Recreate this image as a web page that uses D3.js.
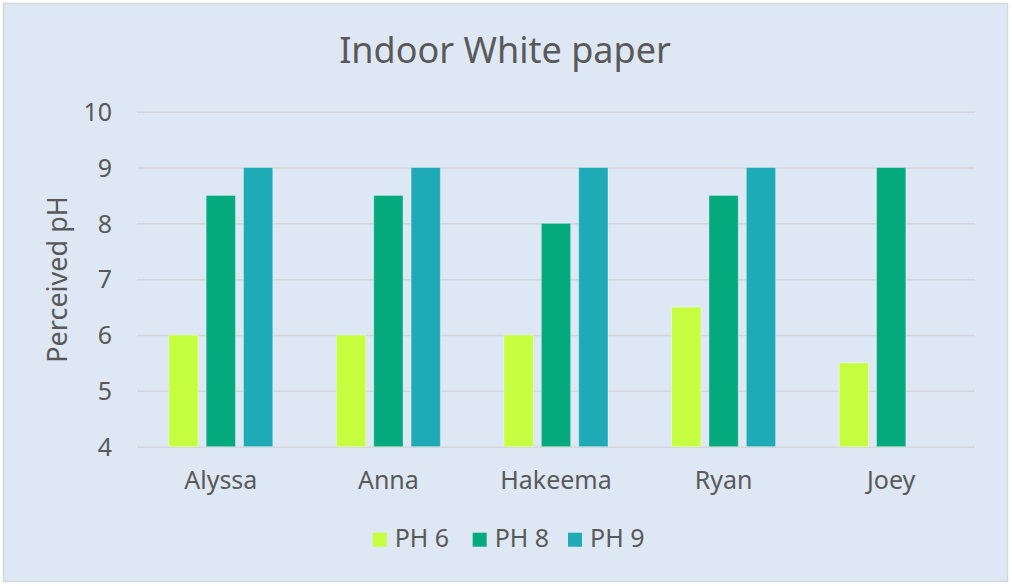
<!DOCTYPE html>
<html>
<head>
<meta charset="utf-8">
<script src="https://cdn.jsdelivr.net/npm/d3@7"></script>
<style>
  html, body { margin: 0; padding: 0; background: #ffffff; }
  svg { display: block; }
  text { font-family: "Noto Sans", "Open Sans", sans-serif; fill: #595959; }
</style>
</head>
<body>
<svg id="chart" width="1012" height="586"></svg>
<script>
const categories = ["Alyssa", "Anna", "Hakeema", "Ryan", "Joey"];
const seriesNames = ["PH 6", "PH 8", "PH 9"];
const ph6 = [6, 6, 6, 6.5, 5.5];
const ph8 = [8.5, 8.5, 8, 8.5, 9];
const ph9 = [9, 9, 9, 9, null];
const yTicks = [4, 5, 6, 7, 8, 9, 10];
const colors = ["#C6FF40", "#05A97E", "#1FAAB8"];
const titleText = "Indoor White paper";
const yTitle = "Perceived pH";

const seriesValues = [ph6, ph8, ph9];
const svg = d3.select("#chart");
const FONT = '"Noto Sans", "Open Sans", sans-serif';

// chart background + border
svg.append("rect").attr("x", 3.5).attr("y", 3.5).attr("width", 1004).attr("height", 578)
  .attr("fill", "#DDE8F4").attr("stroke", "#D6D8DA").attr("stroke-width", 1.5);

const plot = { left: 137, right: 975, top: 111.7, bottom: 446.7 };

const x0 = d3.scaleBand().domain(categories).range([plot.left, plot.right]).padding(0);
const outerPad = 31.8;
const x1 = d3.scaleBand().domain(seriesNames)
  .range([outerPad, x0.bandwidth() - outerPad]).paddingInner(0.215).paddingOuter(0);
const y = d3.scaleLinear().domain([4, 10]).range([plot.bottom, plot.top]);

// gridlines
const grid = d3.axisLeft(y).tickValues(yTicks).tickSize(-(plot.right - plot.left)).tickFormat("");
const gg = svg.append("g").attr("transform", `translate(${plot.left},0)`).call(grid);
gg.select(".domain").remove();
gg.selectAll(".tick line").attr("stroke", "#D3D6D9").attr("stroke-width", 1.5);

// y tick labels
const yAxis = d3.axisLeft(y).tickValues(yTicks).tickSize(0).tickPadding(0).tickFormat(d3.format("d"));
const ya = svg.append("g").attr("transform", `translate(112,0)`).call(yAxis);
ya.select(".domain").remove();
ya.selectAll(".tick text").attr("font-size", 25).attr("fill", "#595959")
  .attr("font-family", FONT).attr("dy", "0.35em");

// x labels
const xAxis = d3.axisBottom(x0).tickSize(0).tickPadding(0);
const xa = svg.append("g").attr("transform", `translate(0,${plot.bottom})`).call(xAxis);
xa.select(".domain").remove();
xa.selectAll(".tick text").attr("font-size", 25).attr("fill", "#595959")
  .attr("font-family", FONT).attr("dy", null).attr("y", 42);

// bars
const groups = svg.append("g").selectAll("g").data(categories).join("g")
  .attr("transform", d => `translate(${x0(d)},0)`);
groups.selectAll("rect")
  .data((c, i) => seriesNames.map((s, j) => ({ s, j, v: seriesValues[j][i] })).filter(d => d.v != null))
  .join("rect")
  .attr("x", d => x1(d.s))
  .attr("width", x1.bandwidth())
  .attr("y", d => y(d.v))
  .attr("height", d => y(4) - y(d.v))
  .attr("fill", d => colors[d.j])
  .attr("stroke", "rgba(255,255,255,0.35)")
  .attr("stroke-width", 1);

// title
svg.append("text").attr("x", 505).attr("y", 63).attr("text-anchor", "middle")
  .attr("font-size", 36).text(titleText);

// y axis title
svg.append("text").attr("transform", "translate(66.5,279.5) rotate(-90)")
  .attr("text-anchor", "middle").attr("font-size", 27).text(yTitle);

// legend
const legendX = [372.7, 472.7, 568];
const lg = svg.append("g").selectAll("g").data(seriesNames).join("g")
  .attr("transform", (d, i) => `translate(${legendX[i]},0)`);
lg.append("rect").attr("x", 0).attr("y", 532.7).attr("width", 14).attr("height", 14)
  .attr("fill", (d, i) => colors[i]);
lg.append("text").attr("x", 22).attr("y", 547).attr("font-size", 25).text(d => d);
</script>
</body>
</html>
